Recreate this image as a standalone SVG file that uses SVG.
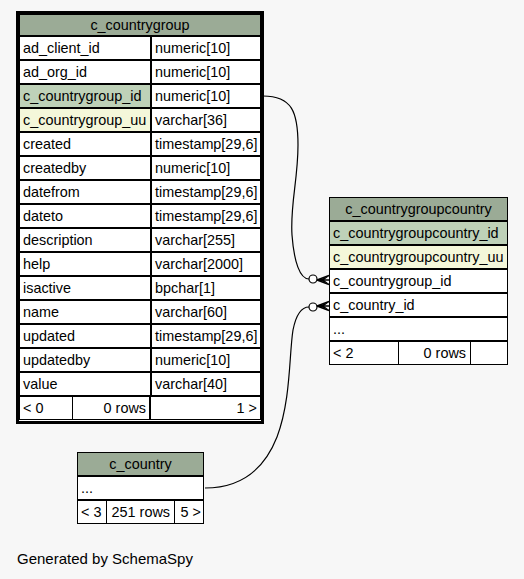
<svg xmlns="http://www.w3.org/2000/svg" width="524" height="579" viewBox="0 0 524 579">
<style>
text{font-family:"Liberation Sans",Arial,sans-serif;font-size:14.4px;fill:#000}
.c{stroke:#000;stroke-width:1;fill:#fff}
.h{fill:#9bab96}
.pk{fill:#bed1b8}
.ix{fill:#f4f7da}
.m{text-anchor:middle}
.e{text-anchor:end}
.edge{fill:none;stroke:#000;stroke-width:1.2}
.dot{fill:#fff;stroke:#000;stroke-width:1.2}
.crow{fill:none;stroke:#000;stroke-width:1.4}
</style>
<rect x="0" y="0" width="524" height="579" fill="#f7f7f7"/>
<g id="c_countrygroup">
<rect x="17.5" y="12.5" width="245" height="410" fill="#fff" stroke="#000" stroke-width="3"/>
<rect class="c h" x="19.5" y="14.5" width="241" height="21"/>
<text class="m" x="140" y="30">c_countrygroup</text>
<rect class="c" x="19.5" y="36.5" width="131" height="23"/><rect class="c" x="151.5" y="36.5" width="109" height="23"/>
<text x="23" y="53">ad_client_id</text><text x="155" y="53">numeric[10]</text>
<rect class="c" x="19.5" y="60.5" width="131" height="23"/><rect class="c" x="151.5" y="60.5" width="109" height="23"/>
<text x="23" y="77">ad_org_id</text><text x="155" y="77">numeric[10]</text>
<rect class="c pk" x="19.5" y="84.5" width="131" height="23"/><rect class="c" x="151.5" y="84.5" width="109" height="23"/>
<text x="23" y="101">c_countrygroup_id</text><text x="155" y="101">numeric[10]</text>
<rect class="c ix" x="19.5" y="108.5" width="131" height="23"/><rect class="c" x="151.5" y="108.5" width="109" height="23"/>
<text x="23" y="125">c_countrygroup_uu</text><text x="155" y="125">varchar[36]</text>
<rect class="c" x="19.5" y="132.5" width="131" height="23"/><rect class="c" x="151.5" y="132.5" width="109" height="23"/>
<text x="23" y="149">created</text><text x="155" y="149">timestamp[29,6]</text>
<rect class="c" x="19.5" y="156.5" width="131" height="23"/><rect class="c" x="151.5" y="156.5" width="109" height="23"/>
<text x="23" y="173">createdby</text><text x="155" y="173">numeric[10]</text>
<rect class="c" x="19.5" y="180.5" width="131" height="23"/><rect class="c" x="151.5" y="180.5" width="109" height="23"/>
<text x="23" y="197">datefrom</text><text x="155" y="197">timestamp[29,6]</text>
<rect class="c" x="19.5" y="204.5" width="131" height="23"/><rect class="c" x="151.5" y="204.5" width="109" height="23"/>
<text x="23" y="221">dateto</text><text x="155" y="221">timestamp[29,6]</text>
<rect class="c" x="19.5" y="228.5" width="131" height="23"/><rect class="c" x="151.5" y="228.5" width="109" height="23"/>
<text x="23" y="245">description</text><text x="155" y="245">varchar[255]</text>
<rect class="c" x="19.5" y="252.5" width="131" height="23"/><rect class="c" x="151.5" y="252.5" width="109" height="23"/>
<text x="23" y="269">help</text><text x="155" y="269">varchar[2000]</text>
<rect class="c" x="19.5" y="276.5" width="131" height="23"/><rect class="c" x="151.5" y="276.5" width="109" height="23"/>
<text x="23" y="293">isactive</text><text x="155" y="293">bpchar[1]</text>
<rect class="c" x="19.5" y="300.5" width="131" height="23"/><rect class="c" x="151.5" y="300.5" width="109" height="23"/>
<text x="23" y="317">name</text><text x="155" y="317">varchar[60]</text>
<rect class="c" x="19.5" y="324.5" width="131" height="23"/><rect class="c" x="151.5" y="324.5" width="109" height="23"/>
<text x="23" y="341">updated</text><text x="155" y="341">timestamp[29,6]</text>
<rect class="c" x="19.5" y="348.5" width="131" height="23"/><rect class="c" x="151.5" y="348.5" width="109" height="23"/>
<text x="23" y="365">updatedby</text><text x="155" y="365">numeric[10]</text>
<rect class="c" x="19.5" y="372.5" width="131" height="23"/><rect class="c" x="151.5" y="372.5" width="109" height="23"/>
<text x="23" y="389">value</text><text x="155" y="389">varchar[40]</text>
<rect class="c" x="19.5" y="396.5" width="53" height="23"/><rect class="c" x="72.5" y="396.5" width="77" height="23"/><rect class="c" x="150.5" y="396.5" width="110" height="23"/>
<text x="23" y="413">&lt; 0</text><text class="e" x="146" y="413">0 rows</text><text class="e" x="257" y="413">1 &gt;</text>
</g>
<g id="c_countrygroupcountry">
<rect x="329.5" y="197.5" width="178" height="167" fill="#fff" stroke="#000"/>
<rect class="c h" x="329.5" y="197.5" width="178" height="23"/>
<text class="m" x="418.5" y="214">c_countrygroupcountry</text>
<rect class="c pk" x="329.5" y="221.5" width="178" height="23"/>
<text x="333" y="238">c_countrygroupcountry_id</text>
<rect class="c ix" x="329.5" y="245.5" width="178" height="23"/>
<text x="333" y="262">c_countrygroupcountry_uu</text>
<rect class="c" x="329.5" y="269.5" width="178" height="23"/>
<text x="333" y="286">c_countrygroup_id</text>
<rect class="c" x="329.5" y="293.5" width="178" height="23"/>
<text x="333" y="310">c_country_id</text>
<rect class="c" x="329.5" y="317.5" width="178" height="23"/>
<text x="333" y="334">...</text>
<rect class="c" x="329.5" y="341.5" width="69" height="23"/><rect class="c" x="398.5" y="341.5" width="72" height="23"/><rect class="c" x="470.5" y="341.5" width="37" height="23"/>
<text x="333" y="358">&lt; 2</text><text class="e" x="466" y="358">0 rows</text>
</g>
<g id="c_country">
<rect class="c h" x="77.5" y="452.5" width="126" height="23"/>
<text class="m" x="140.5" y="469">c_country</text>
<rect class="c" x="77.5" y="476.5" width="126" height="23"/>
<text x="81" y="493">...</text>
<rect class="c" x="77.5" y="500.5" width="29" height="23"/><rect class="c" x="106.5" y="500.5" width="68" height="23"/><rect class="c" x="174.5" y="500.5" width="29" height="23"/>
<text x="81" y="517">&lt; 3</text><text class="e" x="170" y="517">251 rows</text><text class="e" x="201" y="517">5 &gt;</text>
</g>
<g id="connectors">
<path class="edge" d="M263,96 C292,96 298,112 298,145 C298,180 290,205 292,235 C294,262 300,279 309,279"/>
<circle class="dot" cx="313" cy="279" r="4"/>
<path class="crow" d="M317,280 L329,275.5 M317,280 L329,280 M317,280 L329,284.5"/>
<path d="M329,276 L318,280 L329,284 L324,280 Z" fill="#000"/>
<path class="edge" d="M205,488 C240,488 264,470 277,437 C291,400 289,355 293,330 C296,315 302,307 309,307"/>
<circle class="dot" cx="313" cy="307" r="4"/>
<path class="crow" d="M317,306 L329,301.5 M317,306 L329,306 M317,306 L329,310.5"/>
<path d="M329,302 L318,306 L329,310 L324,306 Z" fill="#000"/>
</g>
<text x="17" y="564" style="font-size:15px">Generated by SchemaSpy</text>
</svg>
